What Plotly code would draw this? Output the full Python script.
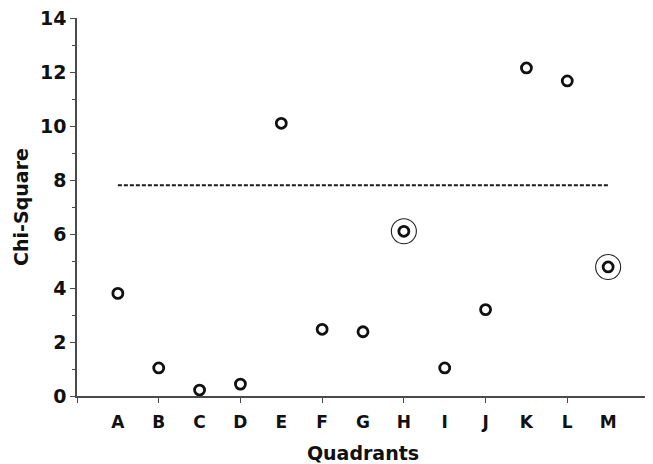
import plotly.graph_objects as go

categories = ["A", "B", "C", "D", "E", "F", "G", "H", "I", "J", "K", "L", "M"]
chi_square = [3.8, 1.04, 0.22, 0.44, 10.1, 2.47, 2.38, 6.1, 1.04, 3.2, 12.15, 11.67, 4.78]
highlighted = ["H", "M"]
critical_value = 7.81
y_ticks = [0, 2, 4, 6, 8, 10, 12, 14]
x_tick_marks = [0, 2, 4, 6, 8, 10, 12, 14]

xpos = [i + 1 for i in range(len(categories))]
hx = [xpos[categories.index(c)] for c in highlighted]
hy = [chi_square[categories.index(c)] for c in highlighted]

WIDE = "DejaVu Sans, sans-serif"
AXC = "#4a4a4a"

fig = go.Figure()
fig.add_trace(go.Scatter(
    x=[xpos[0], xpos[-1]], y=[critical_value, critical_value], mode="lines",
    line=dict(color="#1a1a1a", width=2, dash="4px,2px"), xaxis="x2", yaxis="y",
    showlegend=False, hoverinfo="skip"))
fig.add_trace(go.Scatter(
    x=hx, y=hy, mode="markers", xaxis="x", yaxis="y",
    marker=dict(symbol="circle-open", size=25, color="#222", line=dict(width=1.1)),
    showlegend=False, cliponaxis=False))
fig.add_trace(go.Scatter(
    x=xpos, y=chi_square, mode="markers", xaxis="x", yaxis="y",
    marker=dict(symbol="circle-open", size=10, color="#111", line=dict(width=2.8)),
    showlegend=False, cliponaxis=False))

fig.update_layout(
    width=645, height=456,
    margin=dict(l=69, r=4, t=10, b=68, autoexpand=False),
    plot_bgcolor="white", paper_bgcolor="white",
    font=dict(family=WIDE, color="#111"),
    xaxis=dict(
        range=[0, 14], tickvals=xpos, ticktext=categories, ticks="",
        showline=False, showgrid=False, zeroline=False, automargin=False,
        ticklabelstandoff=14,
        tickfont=dict(size=17, family=WIDE, weight="bold", color="#111"),
        title=dict(text="Quadrants", standoff=15,
                   font=dict(size=19, family=WIDE, weight="bold", color="#111")),
    ),
    xaxis2=dict(
        range=[0, 14], overlaying="x", anchor="y", side="bottom",
        tickvals=x_tick_marks, showticklabels=False, ticks="outside",
        ticklen=5, tickwidth=1.3, tickcolor=AXC,
        showline=True, linecolor=AXC, linewidth=1.6,
        showgrid=False, zeroline=False, automargin=False,
    ),
    yaxis=dict(
        range=[0, 14], tickvals=y_ticks, ticks="outside", ticklen=5,
        tickwidth=1.3, tickcolor=AXC, automargin=False,
        ticklabeloverflow="allow",
        minor=dict(dtick=1, tick0=0, ticks="outside", ticklen=3, tickwidth=1, tickcolor=AXC),
        showline=True, linecolor=AXC, linewidth=1.6,
        showgrid=False, zeroline=False,
        tickfont=dict(size=19, family=WIDE, weight="bold", color="#111"),
        title=dict(text="Chi-Square", standoff=6,
                   font=dict(size=19, family=WIDE, weight="bold", color="#111")),
    ),
)

fig.write_html("out.html")
